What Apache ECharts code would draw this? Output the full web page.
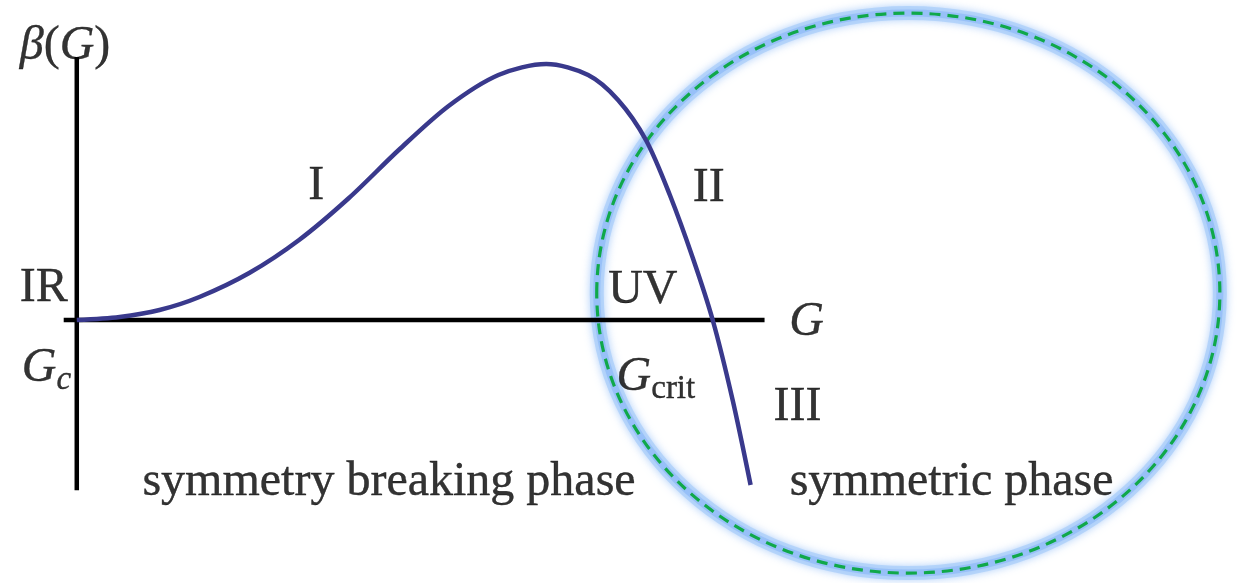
<!DOCTYPE html>
<html>
<head>
<meta charset="utf-8">
<script src="https://cdn.jsdelivr.net/npm/echarts@6/dist/echarts.min.js"></script>
<style>
  html, body { margin: 0; padding: 0; background: #ffffff; }
  #chart { width: 1246px; height: 583px; }
</style>
</head>
<body>
<div id="chart"></div>
<script>
// Beta function β(G) sketch: coupling G on the horizontal axis, β on the vertical.
// Units: G_c sits at the origin.

// Sampled shape of β(G) (G, β)
const betaCurve = [
  [0.000, 0.000], [0.623, 0.047], [1.203, 0.156], [1.783, 0.359], [2.507, 0.734],
  [3.232, 1.250], [3.957, 1.906], [4.681, 2.656], [5.406, 3.344], [6.130, 3.828],
  [6.826, 4.000], [7.435, 3.828], [7.870, 3.438], [8.275, 2.813], [8.623, 1.953],
  [8.957, 0.969], [9.246, 0.000], [9.536, -1.250], [9.797, -2.578]
];

// Axis segments (G, β)
const horizontalAxis = [[-0.19, 0], [10.0, 0]];
const verticalAxis = [[0, 4.11], [0, -2.66]];

// Symmetric-phase region: centre and half-widths (G, β)
const regionCenter = [12.09, 0.42];
const regionRadii = [4.53, 4.375];

// Text annotations (G, β, rich-text label)
const annotations = [
  [-0.17, 4.27, '{i|β}{r|(}{i|G}{r|)}'],
  [-0.48, 0.50, '{r|IR}'],
  [-0.44, -0.76, '{i|G}{isub|c}'],
  [3.48, 2.08, '{r|I}'],
  [9.19, 2.06, '{r|II}'],
  [8.23, 0.47, '{r|UV}'],
  [10.61, -0.03, '{i|G}'],
  [8.42, -0.90, '{i|G}{sub|crit}'],
  [10.48, -1.37, '{r|III}'],
  [4.54, -2.53, '{r|symmetry breaking phase}'],
  [12.72, -2.53, '{r|symmetric phase}']
];

const serif = '"Liberation Serif", "DejaVu Serif", serif';
const ink = '#000000';
const richStyles = {
  r: { fontFamily: serif, fontSize: 48, color: ink },
  i: { fontFamily: serif, fontSize: 48, fontStyle: 'italic', color: ink },
  sub: { fontFamily: serif, fontSize: 33, color: ink, verticalAlign: 'bottom', padding: [24, 0, 0, 0] },
  isub: { fontFamily: serif, fontSize: 33, fontStyle: 'italic', color: ink, verticalAlign: 'bottom', padding: [24, 0, 0, 0] }
};

const chart = echarts.init(document.getElementById('chart'), null, { renderer: 'canvas' });

const option = {
  animation: false,
  backgroundColor: '#ffffff',
  grid: { left: 8, top: 0, width: 1242, height: 576 },
  xAxis: { type: 'value', min: -1, max: 17, show: false },
  yAxis: { type: 'value', min: -4, max: 5, show: false },
  series: [
    {
      // glowing halo + dashed outline of the symmetric-phase region
      type: 'custom',
      coordinateSystem: 'cartesian2d',
      data: [[regionCenter[0], regionCenter[1], regionRadii[0], regionRadii[1]]],
      z: 1,
      renderItem: function (params, api) {
        const c = api.coord([api.value(0), api.value(1)]);
        const s = api.size([api.value(2), api.value(3)]);
        return {
          type: 'group',
          children: [
            {
              type: 'ellipse',
              shape: { cx: c[0], cy: c[1], rx: s[0], ry: s[1] },
              style: {
                fill: 'none', stroke: 'rgba(170,205,250,0.75)', lineWidth: 14,
                shadowBlur: 8, shadowColor: 'rgba(150,192,248,1)'
              }
            },
            {
              type: 'ellipse',
              shape: { cx: c[0], cy: c[1], rx: s[0], ry: s[1] },
              style: {
                fill: 'none', stroke: 'rgba(145,188,248,0.8)', lineWidth: 7
              }
            },
            {
              type: 'ellipse',
              shape: { cx: c[0], cy: c[1], rx: s[0], ry: s[1] },
              style: {
                fill: 'none', stroke: '#10a84a', lineWidth: 3.2, lineDash: [11, 7]
              }
            }
          ]
        };
      }
    },
    {
      type: 'line', data: horizontalAxis, symbol: 'none', z: 3,
      lineStyle: { color: '#000', width: 4.5 }
    },
    {
      type: 'line', data: verticalAxis, symbol: 'none', z: 3,
      lineStyle: { color: '#000', width: 4.5 }
    },
    {
      type: 'line', data: betaCurve, symbol: 'none', smooth: 0.3, z: 4,
      lineStyle: { color: '#39398c', width: 4.5 }
    },
    {
      type: 'scatter', symbolSize: 0, z: 5,
      data: annotations.map(a => ({
        value: [a[0], a[1]],
        label: { formatter: a[2] }
      })),
      label: {
        show: true, position: 'inside', align: 'center', verticalAlign: 'middle',
        color: ink, textBorderColor: ink, textBorderWidth: 0.4, rich: richStyles
      }
    }
  ]
};

chart.setOption(option);
</script>
</body>
</html>
